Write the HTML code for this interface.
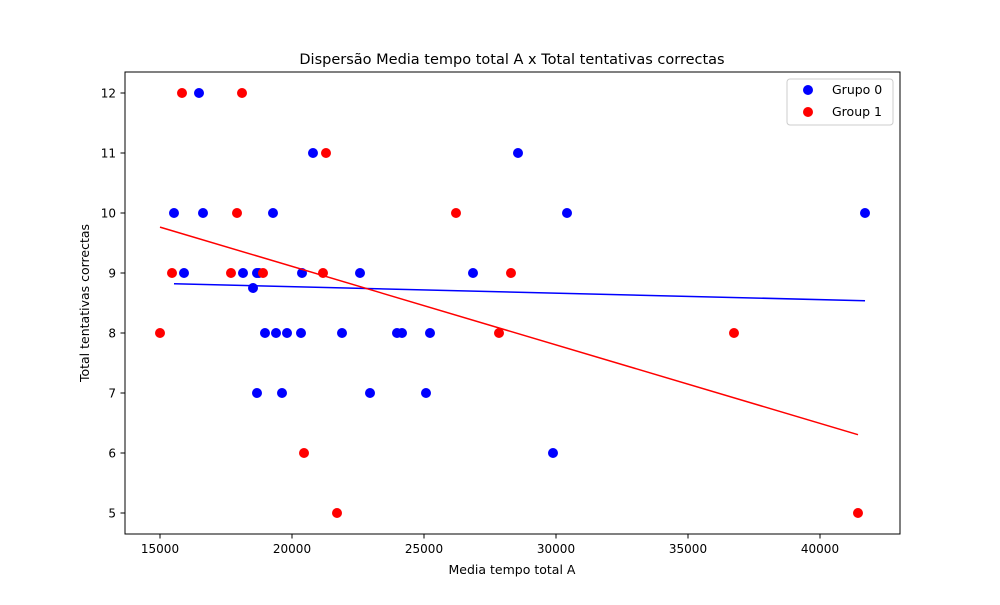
<!DOCTYPE html>
<html><head><meta charset="utf-8"><style>
body{margin:0;background:#fff;font-family:"Liberation Sans","DejaVu Sans",sans-serif}
</style></head><body>
<svg id="chart" width="1000" height="600" xmlns="http://www.w3.org/2000/svg" font-family="DejaVu Sans, Liberation Sans, sans-serif">
<rect width="1000" height="600" fill="#fff"/>
<text x="512" y="64" text-anchor="middle" font-size="14.5">Dispersão Media tempo total A x Total tentativas correctas</text>
<g id="plot"></g>
<rect x="125" y="72" width="775" height="462" fill="none" stroke="#000" stroke-width="1"/>
<text x="512" y="574" text-anchor="middle" font-size="12.5">Media tempo total A</text>
<text transform="translate(89,303) rotate(-90)" text-anchor="middle" font-size="12.5">Total tentativas correctas</text>
<g>
<rect x="787" y="79" width="106" height="46" rx="3" fill="#fff" stroke="#ccc"/>
<circle cx="808" cy="90" r="5" fill="blue"/>
<text x="832" y="94" font-size="12.5">Grupo 0</text>
<circle cx="808" cy="112" r="5" fill="red"/>
<text x="832" y="116" font-size="12.5">Group 1</text>
</g>
</svg>
<script>
const xTicks=[15000,20000,25000,30000,35000,40000];
const yTicks=[5,6,7,8,9,10,11,12];
const g0x=[15530,16477,16629,15909,18144,18523,18674,18750,18674,18977,19280,19394,19621,19811,20341,20379,20795,21894,22576,22955,23977,24167,25076,25227,26856,28561,29886,30417,41705];
const g0y=[10,12,10,9,9,8.75,9,9,7,8,10,8,7,8,8,9,11,8,9,7,8,8,7,8,9,11,6,10,10];
const g1x=[15000,15455,15833,17917,17689,18106,18902,20455,21174,21288,21705,26212,27841,28295,36742,41439];
const g1y=[8,9,12,10,9,12,9,6,9,11,5,10,8,9,8,5];
const X=v=>160+(v-15000)*0.0264;
const Y=v=>513-(v-5)*60;
const NS="http://www.w3.org/2000/svg";
const svg=document.getElementById('chart');const plot=document.getElementById('plot');
function mk(t,a,p){const e=document.createElementNS(NS,t);for(const k in a)e.setAttribute(k,a[k]);(p||plot).appendChild(e);return e;}
xTicks.forEach(v=>{
 const l=mk('line',{x1:X(v),x2:X(v),y1:534,y2:538.5,stroke:'#000'});
 
 
 const t=mk('text',{x:X(v),y:553,'text-anchor':'middle','font-size':'12'});t.textContent=v;
 
 
});
yTicks.forEach(v=>{
 const l=mk('line',{x1:120.5,x2:125,y1:Y(v),y2:Y(v),stroke:'#000'});
 
 
 const t=mk('text',{x:116,y:Y(v)+4.5,'text-anchor':'end','font-size':'12'});t.textContent=v;
 
 
});
function series(xs,ys,c,name){
 xs.forEach((x,i)=>{const p=mk('circle',{cx:X(x),cy:Y(ys[i]),r:5,fill:c});
  
  });
}
function fit(xs,ys,c,name){
 const n=xs.length,mx=xs.reduce((a,b)=>a+b)/n,my=ys.reduce((a,b)=>a+b)/n;
 let sxy=0,sxx=0;xs.forEach((x,i)=>{sxy+=(x-mx)*(ys[i]-my);sxx+=(x-mx)**2;});
 const b=sxy/sxx,a=my-b*mx,x0=Math.min(...xs),x1=Math.max(...xs);
 const l=mk('line',{x1:X(x0),y1:Y(a+b*x0),x2:X(x1),y2:Y(a+b*x1),stroke:c,'stroke-width':1.5});
 
 
}
series(g0x,g0y,'blue','grupo-0');
series(g1x,g1y,'red','group-1');
fit(g0x,g0y,'blue','grupo-0');
fit(g1x,g1y,'red','group-1');
</script>
</body></html>
